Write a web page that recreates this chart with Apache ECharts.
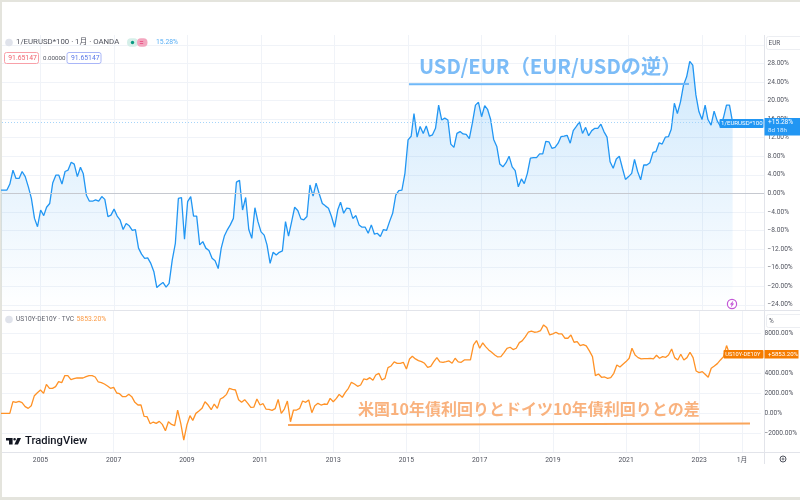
<!DOCTYPE html>
<html><head><meta charset="utf-8">
<style>html,body{margin:0;padding:0;background:#e4e4dd}#c{width:800px;height:500px}</style>
<script src="https://cdn.jsdelivr.net/npm/echarts@6/dist/echarts.min.js"></script>
</head><body><div id="c"></div>
<script>
// USD/EUR change since base, % (monthly, from 2003-12)
const usdEur = [0.7,0.7,0.7,2.0,5.0,3.2,3.2,4.7,3.6,1.4,-1.1,-5.4,-7.2,-3.6,-4.8,-3.0,-2.2,2.2,3.9,3.9,2.0,4.7,5.0,6.7,6.3,3.6,5.6,4.2,-0.4,-1.7,-1.7,-1.4,-1.7,-0.7,-1.3,-5.0,-4.7,-3.4,-4.9,-5.7,-7.8,-6.5,-7.0,-8.0,-7.8,-11.8,-13.1,-14.0,-13.9,-15.1,-16.9,-20.3,-19.7,-19.2,-20.2,-19.4,-14.4,-10.8,-1.1,-0.9,-9.9,-1.8,-0.7,-4.9,-4.9,-11.1,-10.4,-11.8,-12.3,-14.0,-14.5,-16.2,-11.8,-9.2,-7.8,-6.8,-5.4,2.4,2.8,-3.6,-0.9,-7.8,-9.7,-3.1,-6.1,-8.3,-9.0,-11.1,-15.1,-12.7,-13.3,-12.7,-12.4,-6.1,-9.2,-6.1,-3.0,-3.7,-5.5,-5.7,-5.0,1.8,-0.6,2.2,-0.1,-2.2,-2.7,-3.2,-5.0,-7.3,-3.6,-1.9,-4.3,-3.2,-3.3,-5.4,-4.8,-6.8,-7.3,-7.3,-8.6,-6.8,-8.8,-8.6,-9.3,-7.8,-8.0,-6.1,-4.3,-0.4,0.6,
0.7,4.3,11.5,12.3,17.2,12.1,14.4,12.9,14.5,12.3,12.6,14.0,19.0,15.8,16.2,15.8,10.6,9.9,12.9,13.3,12.8,12.7,11.8,15.1,19.0,19.6,16.5,18.9,18.1,15.9,11.6,10.1,6.3,5.7,6.6,8.0,5.7,4.9,1.4,3.1,2.1,4.3,7.6,7.7,7.7,8.5,8.5,11.2,11.1,9.7,9.9,10.8,12.2,12.3,12.5,10.8,13.5,14.4,15.4,12.9,14.2,12.4,13.5,14.0,14.0,14.9,13.3,12.1,6.8,5.4,7.4,8.0,5.4,3.0,3.6,4.3,7.3,4.7,2.9,6.1,6.1,6.6,8.8,9.0,10.9,10.6,12.1,12.2,13.8,19.4,17.2,19.7,23.3,25.1,28.4,27.6,21.2,17.6,15.9,19.0,15.9,14.7,17.7,15.6,14.5,16.2,19.0,19.0,15.28];
// US10Y-DE10Y, % (monthly, from 2003-12)
const usDeSpread = [0,0,0,0,1162,1096,1195,1062,664,498,764,1760,2058,2324,1992,2888,2490,2490,2656,3154,3054,3752,3752,3353,3453,3519,3519,3519,3652,3752,3752,3619,3121,3054,2922,2722,2490,2590,2025,1959,1660,1660,1892,1660,1096,830,830,-299,-332,-1029,-863,-996,-797,-1096,-1726,-830,-1096,-1228,332,-996,-2656,-1162,-232,-697,0,232,498,1162,830,365,930,498,1428,1594,1892,2490,2390,2324,1361,1096,1361,996,598,631,1428,830,963,432,398,299,465,1394,0,432,1228,-830,332,332,498,1228,1096,1328,66,764,996,830,930,896,1494,1162,1494,1892,1594,2092,2490,3088,2922,2689,2822,3420,3353,3552,3287,3818,3984,3320,3486,4548,4714,5113,4980,
4980,5080,4416,5412,5677,5412,5246,5146,4980,4582,4681,5146,5544,5113,5080,5146,5212,4980,5478,5113,5080,5312,5312,5312,6806,7238,6474,7005,6640,6308,6076,5810,5611,5644,6042,6474,6574,6341,6474,7038,7204,7603,8068,8167,8068,8101,8234,8798,8532,7802,7902,8068,7902,7902,7470,7470,7802,7072,7138,6740,6839,6706,6208,5644,3752,3918,3586,3619,3486,3552,3984,4814,4615,4880,5146,5478,6474,5810,5544,5412,5445,5445,5478,5412,5777,5478,5644,5578,5810,6408,5544,5312,5876,5312,5544,6076,5544,4216,4050,4150,3884,3586,4482,4714,4947,5312,5644,6740,5853.2];
const xTickDates = ['2005-01-01','2007-01-01','2009-01-01','2011-01-01','2013-01-01','2015-01-01','2017-01-01','2019-01-01','2021-01-01','2023-01-01','2024-03-03'];
const xTickLabels = ['2005','2007','2009','2011','2013','2015','2017','2019','2021','2023','1月'];
const topGridValues = [-24,-20,-16,-12,-8,-4,0,4,8,12,16,20,24,28,32];
const topLabelValues = [-24,-20,-16,-12,-8,-4,0,4,8,12,16,20,24,28];
const bottomTickValues = [-2000,0,2000,4000,6000,8000];
const usdEurLast = 15.28;

function monthDates(n){const r=[];let y=2003,m=12;for(let i=0;i<n;i++){r.push(Date.parse(y+'-'+String(m).padStart(2,'0')+'-01'));m++;if(m>12){m=1;y++;}}return r;}
const pair=a=>{const d=monthDates(a.length);return a.map((v,i)=>[d[i],v]);};

const FONT='Roboto, "Noto Sans CJK JP", sans-serif';
const CJK='"Noto Sans CJK JP", sans-serif';
const LINE='#f0f3f8', AXIS='#e2e4ea', TXT='#50535e';
const XMIN=Date.parse('2003-12-14'), XMAX=Date.parse('2024-09-08');
const xTickValues=xTickDates.map(d=>Date.parse(d));
const labelMap={};xTickValues.forEach((d,i)=>{labelMap[d]=xTickLabels[i];});
const fmtPct=v=>(v<0?'−':'')+Math.abs(v).toFixed(2)+'%';

function txt(x,y,text,size,fill,extra){return Object.assign({type:'text',x,y,z:100,silent:true,style:Object.assign({text,fontSize:size,fill,fontFamily:FONT,verticalAlign:'middle',align:'left'},extra||{})});}
function rect(x,y,w,h,fill,stroke,r,z){return {type:'rect',z:z==null?90:z,silent:true,shape:{x,y,width:w,height:h,r:r||0},style:{fill:fill,stroke:stroke||null,lineWidth:stroke?1:0}};}
function line(x1,y1,x2,y2,stroke,w,z){return {type:'line',z:z==null?95:z,silent:true,shape:{x1,y1,x2,y2},style:{stroke,lineWidth:w}};}
function poly(points,fill){return {type:'polygon',z:100,silent:true,shape:{points},style:{fill}};}
function circ(cx,cy,r,fill,stroke,w){return {type:'circle',z:100,silent:true,shape:{cx,cy,r},style:{fill:fill||null,stroke:stroke||null,lineWidth:w||0}};}

const graphicEls=[
 rect(2,2,798,495,'#ffffff',null,0,-10),
 // panel frame
 line(2,310.5,800,310.5,AXIS,1,1),
 line(2,452.5,800,452.5,AXIS,1,1),
 line(764.5,35,764.5,464,AXIS,1,1),
 // header top
 circ(9,42.5,3.8,'#e0e3eb'),
 txt(16,42.5,'1/EURUSD*100 · 1月 · OANDA',7.8,'#50535e'),
 rect(127,38.3,11,8.4,'#d5efe9',null,4),
 rect(137,38.3,10.5,8.4,'#f3a6bf',null,4),
 circ(132.5,42.5,1.7,'#089981'),
 rect(139.8,41.2,3.4,.8,'#e84a7f'),rect(139.8,43,3.4,.8,'#e84a7f'),
 txt(156,42.5,'15.28%',6.8,'#57aef5'),
 rect(4.5,52.5,34,11,'#fff','#f8a0a8',2),
 txt(8.3,58,'91.65147',6.8,'#f0616d'),
 txt(43,58,'0.00000',6.2,'#50535e'),
 rect(67,52.5,34,11,'#fff','#a9b6f8',2),
 txt(71,58,'91.65147',6.8,'#5a78e8'),
 // header bottom
 circ(9,319.5,3.8,'#e0e3eb'),
 txt(16,319.5,'US10Y-DE10Y · TVC',6.6,'#60636e'),
 txt(76.5,319.5,'5853.20%',6.8,'#fb9b46'),
 // annotations
 txt(419,66.5,'USD/EUR（EUR/USDの逆）',20.2,'#7cbcf7',{fontFamily:CJK,fontWeight:'bold'}),
 line(409,84.3,689,84,'#6fb8f8',2),
 txt(358,409,'米国10年債利回りとドイツ10年債利回りとの差',16,'#f9b27e',{fontFamily:CJK,fontWeight:'bold'}),
 line(288,425,750,423.4,'#f9a55b',2),
 // last-value tags
 rect(719.5,119,44,9,'#2196f3',null,1),
 txt(721,123.6,'1/EURUSD*100',6.1,'#fff'),
 rect(764.5,118,35.5,17.5,'#2196f3'),
 txt(768,122.8,'+15.28%',6.6,'#fff'),
 txt(768,130.6,'8d 18h',6.2,'#d8ecfd'),
 rect(723.5,350,40,8.5,'#f57c00',null,1),
 txt(725.3,354.4,'US10Y-DE10Y',5.7,'#fff'),
 rect(764.5,350,34,8.5,'#f57c00'),
 txt(768,354.4,'+5853.20%',6.1,'#fff'),
 // scale mode boxes
 rect(766.5,36.5,40,13,'#fff','#eceef2',2),
 txt(768.5,43,'EUR',6.4,'#50535e'),
 rect(766.5,314.5,40,13,'#fff','#eceef2',2),
 txt(769,321,'%',6.4,'#50535e'),
 // alert icon
 circ(732,304,4.6,'#fff','#c356d6',1.2),
 poly([[733.4,300.4],[729.8,304.6],[731.6,304.6],[730.8,307.6],[734.2,303.4],[732.4,303.4]],'#c356d6'),
 // gear
 circ(783,459,3,null,'#50535e',1),
 circ(783,459,1,null,'#50535e',.8),
 // logo
 poly([[6,437.9],[12.6,437.9],[12.6,444.5],[9,444.5],[9,440.4],[6,440.4]],'#131722'),
 circ(14.6,439.2,1.3,'#131722'),
 poly([[17.4,437.9],[21,437.9],[18,444.5],[14.4,444.5]],'#131722'),
 txt(25,440.8,'TradingView',11.2,'#131722',{fontWeight:500})
];

const xBase=(gi)=>({type:'value',gridIndex:gi,min:XMIN,max:XMAX,
  axisLine:{show:false},
  axisTick:{show:false,customValues:xTickValues},
  splitLine:{show:true,lineStyle:{color:LINE,width:1}},
  axisLabel:{show:gi===1,customValues:xTickValues,formatter:v=>labelMap[v]||'',color:TXT,fontSize:6.8,fontFamily:FONT,margin:4.5,hideOverlap:false,showMinLabel:true,showMaxLabel:true}});
const yBase=(gi,min,max,ticks,labels)=>({type:'value',gridIndex:gi,position:'right',min,max,
  axisLine:{show:false},
  axisTick:{show:false,customValues:ticks},
  splitLine:{show:true,lineStyle:{color:LINE,width:1}},
  axisLabel:{customValues:labels,formatter:fmtPct,color:TXT,fontSize:6.6,fontFamily:FONT,margin:3.5,hideOverlap:false,showMinLabel:true,showMaxLabel:true}});

const chart=echarts.init(document.getElementById('c'),null,{renderer:'canvas',width:800,height:500});
chart.setOption({
 animation:false,
 backgroundColor:'#e4e4dd',
 graphic:{elements:graphicEls},
 grid:[{left:2,right:36,top:35,height:275,containLabel:false},{left:2,right:36,top:311,height:141,containLabel:false}],
 xAxis:[xBase(0),xBase(1)],
 yAxis:[yBase(0,-25.13,34.1,topGridValues,topLabelValues),yBase(1,-3841,10179,bottomTickValues,bottomTickValues)],
 series:[
  {type:'line',xAxisIndex:0,yAxisIndex:0,data:pair(usdEur),showSymbol:false,symbol:'none',smooth:false,clip:true,
   lineStyle:{color:'#2196f3',width:1.3},
   areaStyle:{origin:'start',color:{type:'linear',x:0,y:0,x2:0,y2:1,colorStops:[{offset:0,color:'rgba(33,150,243,0.3)'},{offset:1,color:'rgba(33,150,243,0.0)'}]}},
   markLine:{silent:true,symbol:'none',label:{show:false},animation:false,data:[
     {yAxis:0,lineStyle:{color:'#c6c9d0',width:1,type:'solid'}},
     {yAxis:usdEurLast,lineStyle:{color:'#a5d5fa',width:1,type:[1,2]}}]}},
  {type:'line',xAxisIndex:1,yAxisIndex:1,data:pair(usDeSpread),showSymbol:false,symbol:'none',smooth:false,clip:true,
   lineStyle:{color:'#ff9226',width:1.3}}
 ]
});
</script></body></html>
